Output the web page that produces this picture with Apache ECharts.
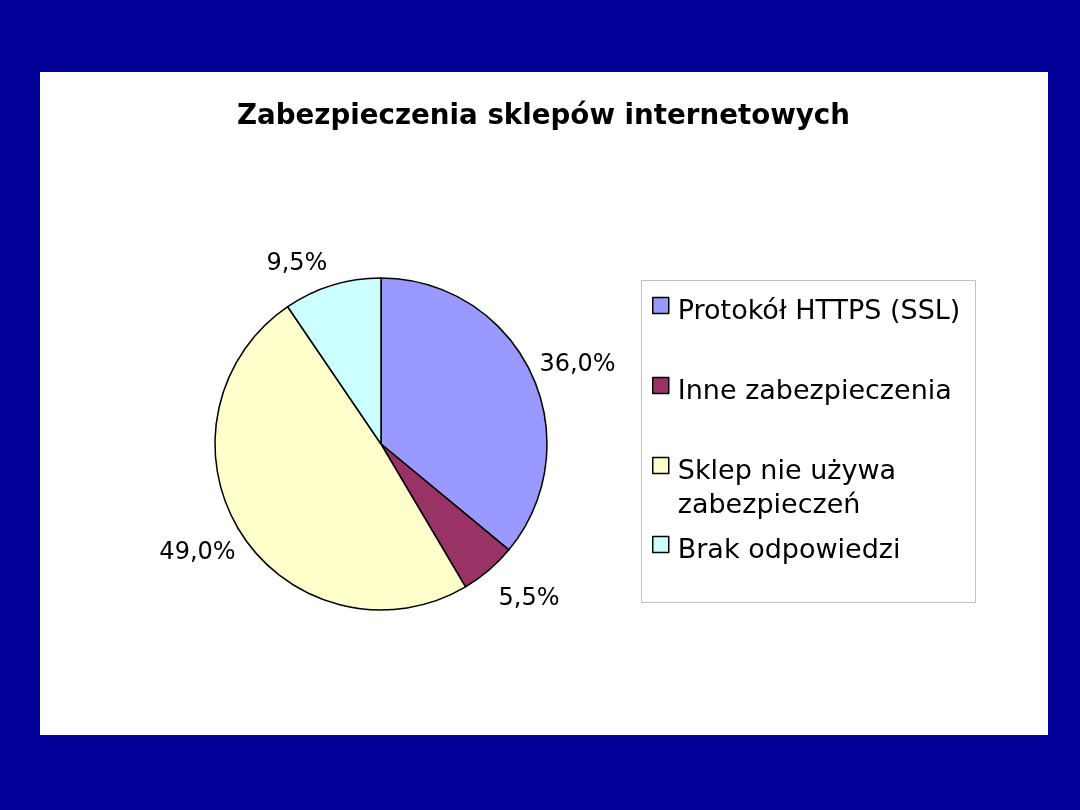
<!DOCTYPE html>
<html>
<head>
<meta charset="utf-8">
<script src="https://cdn.jsdelivr.net/npm/echarts@6/dist/echarts.min.js"></script>
<style>
html,body{margin:0;padding:0;background:#000099;}
#chart{width:1080px;height:810px;}
</style>
</head>
<body>
<div id="chart"></div>
<script>
var titleText = 'Zabezpieczenia sklepów internetowych';
var categories = ['Protokół HTTPS (SSL)', 'Inne zabezpieczenia', 'Sklep nie używa zabezpieczeń', 'Brak odpowiedzi'];
var legendLabels = ['Protokół HTTPS (SSL)', 'Inne zabezpieczenia', 'Sklep nie używa\nzabezpieczeń', 'Brak odpowiedzi'];
var values = [36.0, 5.5, 49.0, 9.5];
var colors = ['#9999FF', '#993366', '#FFFFCC', '#CCFFFF'];

// label placement tuning (layout only)
var labelLineLen = [19, 38, 37, 23];
var labelDist = [-9, -15, -26, -2];

var chart = echarts.init(document.getElementById('chart'), null, {renderer: 'canvas'});

var pieData = categories.map(function (name, i) {
  return {
    name: name,
    value: values[i],
    itemStyle: {color: colors[i]},
    label: {distanceToLabelLine: labelDist[i]},
    labelLine: {length: labelLineLen[i], length2: 0}
  };
});

var FONT = 'DejaVu Sans';
// square icon sitting at the top of a taller box so the text sits slightly lower
var iconSingle = 'path://M0,0L16,0L16,16L0,16ZM20,28';
var iconDouble = 'path://M0,0L16,0L16,16L0,16ZM20,62';
var legendTops = [296.5, 376.5, 454.5, 535.5];
var legends = categories.map(function (name, i) {
  var two = (i === 2);
  return {
    data: [{name: name, icon: two ? iconDouble : iconSingle}],
    orient: 'vertical',
    left: 652,
    top: legendTops[i],
    padding: 0,
    selectedMode: false,
    itemWidth: 20,
    itemHeight: two ? 62 : 28,
    itemStyle: {borderColor: '#000', borderWidth: 1.5},
    formatter: function () { return legendLabels[i]; },
    textStyle: {
      fontFamily: FONT,
      fontSize: 27,
      color: '#000',
      lineHeight: two ? 34 : 30
    }
  };
});

chart.setOption({
  backgroundColor: '#000099',
  animation: false,
  title: {
    text: titleText,
    left: 237,
    top: 103,
    padding: 0,
    textStyle: {fontFamily: FONT, fontSize: 27.7, fontWeight: 'bold', color: '#000'}
  },
  graphic: [
    {type: 'rect', z: -10, shape: {x: 40, y: 72, width: 1008, height: 663}, style: {fill: '#FFFFFF'}},
    {type: 'rect', z: -9, shape: {x: 641.5, y: 280.5, width: 334, height: 322}, style: {fill: '#FFFFFF', stroke: '#C0C0C0', lineWidth: 1}}
  ],
  legend: legends,
  series: [{
    type: 'pie',
    center: [381, 444],
    radius: 166,
    startAngle: 90,
    clockwise: true,
    avoidLabelOverlap: false,
    itemStyle: {borderColor: '#000', borderWidth: 1.5},
    label: {
      show: true,
      position: 'outside',
      fontFamily: FONT,
      fontSize: 24,
      color: '#000',
      formatter: function (p) { return p.value.toFixed(1).replace('.', ',') + '%'; }
    },
    labelLine: {show: false},
    emphasis: {disabled: true},
    data: pieData
  }]
});
</script>
</body>
</html>
